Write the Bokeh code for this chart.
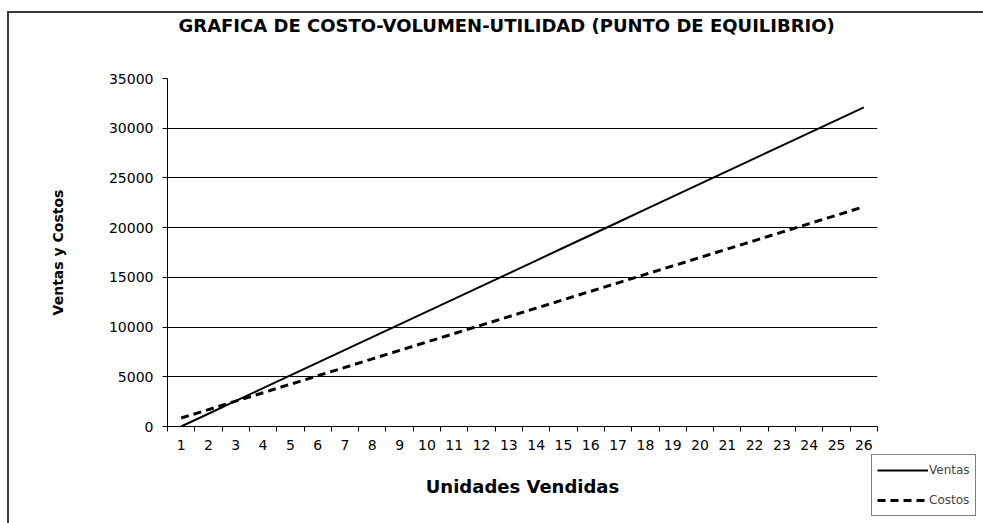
from bokeh.plotting import figure
from bokeh.models import (Legend, LegendItem, FixedTicker, Range1d, Title)
from bokeh.embed import file_html
from bokeh.resources import INLINE

# ---- data ----
unidades = [1, 2, 3, 4, 5, 6, 7, 8, 9, 10, 11, 12, 13, 14, 15, 16, 17, 18, 19,
            20, 21, 22, 23, 24, 25, 26]
ventas = [0, 1284, 2568, 3852, 5136, 6420, 7704, 8988, 10272, 11556, 12840,
          14124, 15408, 16692, 17976, 19260, 20544, 21828, 23112, 24396, 25680,
          26964, 28248, 29532, 30816, 32100]
costos = [850, 1700, 2550, 3400, 4250, 5100, 5950, 6800, 7650, 8500, 9350,
          10200, 11050, 11900, 12750, 13600, 14450, 15300, 16150, 17000, 17850,
          18700, 19550, 20400, 21250, 22100]
y_ticks = [0, 5000, 10000, 15000, 20000, 25000, 30000, 35000]
titulo = "GRAFICA DE COSTO-VOLUMEN-UTILIDAD (PUNTO DE EQUILIBRIO)"

FL, FR, FT, FB = 167, 106, 78, 97

p = figure(frame_width=710, frame_height=348, output_backend="svg",
           toolbar_location=None, title=None,
           x_range=Range1d(0.5, 26.5), y_range=Range1d(0, 35000),
           min_border_left=FL, min_border_right=FR, min_border_top=FT,
           min_border_bottom=FB, background_fill_color="white",
           border_fill_color=None, outline_line_color=None)
p.styles = {"background-color": "white",
            "background-image": "linear-gradient(#3a3a3a,#3a3a3a), linear-gradient(#3a3a3a,#3a3a3a)",
            "background-size": "100% 2px, 2px 100%",
            "background-position": "8px 11px, 7px 11px",
            "background-repeat": "no-repeat"}

FONT = "DejaVu Sans"

# spacer between the frame and the title (nearest the frame), then the title
p.add_layout(Title(text=" ", text_font_size="1px", standoff=38), "above")
p.add_layout(Title(text=titulo, text_font=FONT, text_font_size="18px",
                   text_font_style="bold", text_color="black", align="left",
                   offset=11, standoff=4), "above")

# axes
xa = p.xaxis[0]
xa.ticker = FixedTicker(ticks=unidades,
                        minor_ticks=[u - 0.5 for u in unidades] + [unidades[-1] + 0.5])
xa.major_tick_line_color = None
xa.minor_tick_line_color = "black"
xa.minor_tick_out = 5
xa.minor_tick_in = 0
xa.axis_line_color = "black"
xa.major_label_text_font = FONT
xa.major_label_text_font_size = "14px"
xa.major_label_text_color = "black"
xa.major_label_standoff = 7
xa.axis_label = "Unidades Vendidas"
xa.axis_label_text_font = FONT
xa.axis_label_text_font_size = "18px"
xa.axis_label_text_font_style = "bold"
xa.axis_label_text_color = "black"
xa.axis_label_standoff = 23

ya = p.yaxis[0]
ya.ticker = FixedTicker(ticks=y_ticks)
ya.minor_tick_line_color = None
ya.major_tick_out = 5
ya.major_tick_in = 0
ya.major_tick_line_color = "black"
ya.axis_line_color = "black"
ya.major_label_text_font = FONT
ya.major_label_text_font_size = "14px"
ya.major_label_text_color = "black"
ya.major_label_standoff = 9
ya.axis_label = "Ventas y Costos"
ya.axis_label_text_font = FONT
ya.axis_label_text_font_size = "14px"
ya.axis_label_text_font_style = "bold"
ya.axis_label_text_color = "black"
ya.axis_label_standoff = 40

p.xgrid.grid_line_color = None
p.ygrid.grid_line_color = "black"
p.ygrid.grid_line_width = 1

r_v = p.line(unidades, ventas, line_color="black", line_width=2)
r_c = p.line(unidades, costos, line_color="black", line_width=3,
             line_dash="8 5")

legend = Legend(items=[LegendItem(label="Ventas", renderers=[r_v]),
                       LegendItem(label="Costos", renderers=[r_c])],
                location=(-6, -90), orientation="vertical",
                glyph_width=51, glyph_height=20, label_standoff=1,
                label_text_font=FONT, label_text_font_size="12px",
                label_height=20, spacing=10, padding=5, margin=0,
                border_line_color="black", border_line_width=1,
                background_fill_color="white", background_fill_alpha=1)
p.add_layout(legend, "right")

open("out.html", "w").write(file_html(p, INLINE))
